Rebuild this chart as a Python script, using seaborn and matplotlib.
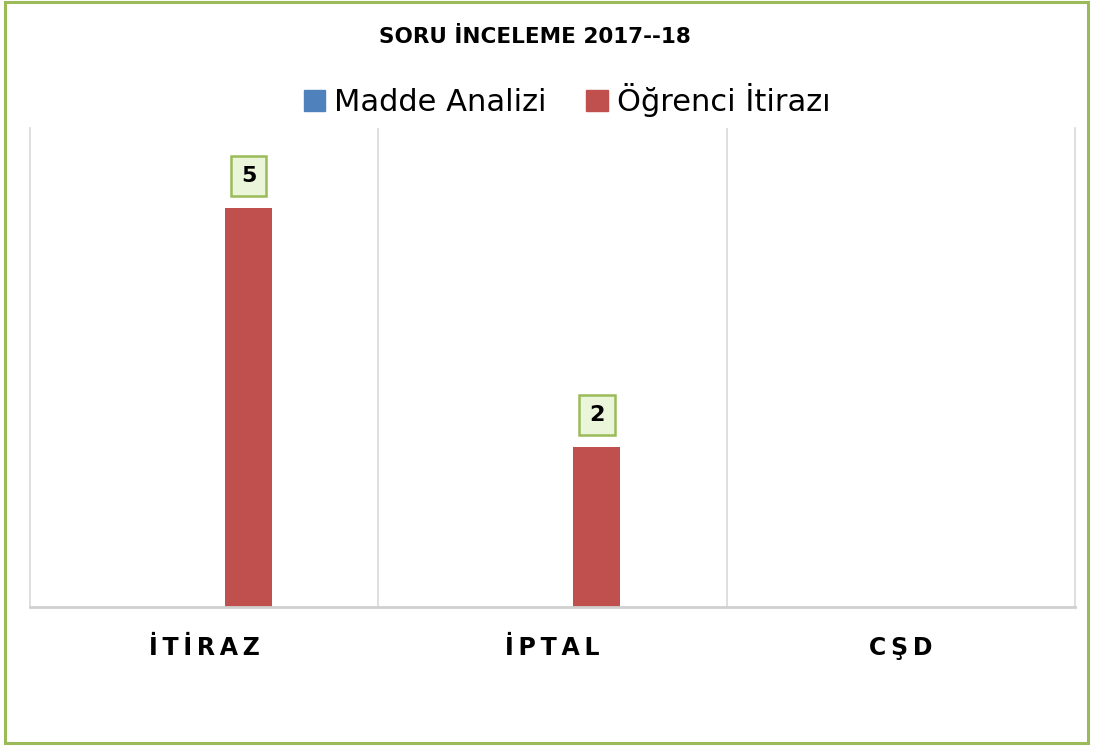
import matplotlib
matplotlib.use("Agg")
import matplotlib.pyplot as plt
import seaborn as sns
import pandas as pd
from matplotlib.patches import Rectangle

categories = ["İTİRAZ", "İPTAL", "CŞD"]
series_names = ["Madde Analizi", "Öğrenci İtirazı"]
madde_analizi = [0, 0, 0]
ogrenci_itirazi = [5, 2, 0]
colors = ["#4F81BD", "#C0504D"]

df = pd.DataFrame({
    "kategori": categories * 2,
    "seri": [series_names[0]] * 3 + [series_names[1]] * 3,
    "deger": madde_analizi + ogrenci_itirazi,
})

sns.set_theme(style="white")
plt.rcParams["font.family"] = ["DejaVu Sans"]
plt.rcParams["text.color"] = "black"
plt.rcParams["xtick.color"] = "black"

fig = plt.figure(figsize=(10.93, 7.47), dpi=100)
ax = fig.add_axes([30/1093, 140/747, 1045/1093, 479/747])

sns.barplot(data=df, x="kategori", y="deger", hue="seri", hue_order=series_names,
            order=categories, palette=colors, width=0.51, gap=0.47, ax=ax,
            legend=False, saturation=1, errorbar=None, linewidth=0)

ax.set_xlim(-0.5, 2.5)
ax.set_ylim(0, 6)
ax.set_yticks([])
ax.set_xlabel("")
ax.set_ylabel("")
ax.spines["top"].set_visible(False)
for s in ["left", "right"]:
    ax.spines[s].set_color("#D9D9D9")
    ax.spines[s].set_linewidth(1.2)
ax.spines["bottom"].set_color("#D0D0D0")
ax.spines["bottom"].set_linewidth(2)
for xv in [0.5, 1.5]:
    ax.axvline(xv, color="#D9D9D9", lw=1.2, zorder=0)

spaced = ["\u2009".join(list(c)) for c in categories]
ax.set_xticks(range(len(categories)))
ax.set_xticklabels(spaced, fontsize=17, fontweight="bold", color="black")
ax.tick_params(axis="x", length=0, pad=21)

cont = ax.containers[1]
labels = [str(v) if v != 0 else "" for v in ogrenci_itirazi]
texts = ax.bar_label(cont, labels=labels, padding=16, fontsize=16, fontweight="bold",
                     color="black")
for t in texts:
    if t.get_text():
        t.set_bbox(dict(boxstyle="square,pad=0.45", fc="#EBF5DA", ec="#9BBB59", lw=1.8))

fig.text(535/1093, 1 - 37/747, "SORU İNCELEME 2017--18", ha="center", va="center",
         fontsize=15.5, fontweight="bold", color="black")

handles = [Rectangle((0, 0), 1, 1, color=c) for c in colors]
leg = fig.legend(handles, series_names, loc="center", bbox_to_anchor=(567/1093, 1 - 100/747),
                 ncol=2, frameon=False, fontsize=22, handlelength=0.7, handleheight=0.7,
                 handletextpad=0.3, columnspacing=1.3)
for t in leg.get_texts():
    t.set_color("black")

fig.add_artist(Rectangle((5/1093, 4/747), 1083/1093, 741/747, transform=fig.transFigure,
                         fill=False, ec="#9BBB59", lw=2.2))

fig.savefig("out.png", dpi=100)
